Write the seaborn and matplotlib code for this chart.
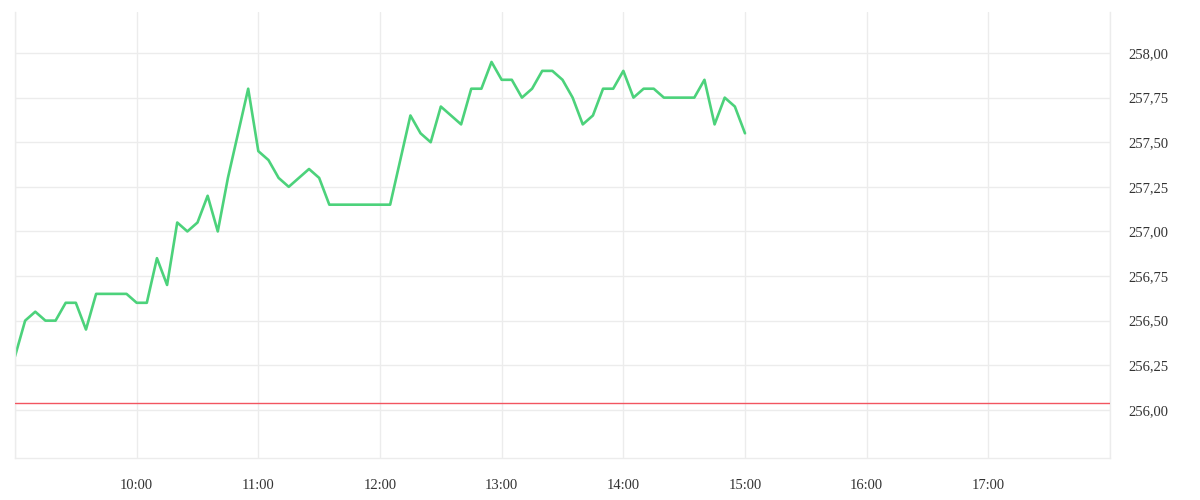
import matplotlib
matplotlib.use("Agg")
import matplotlib.pyplot as plt
import matplotlib.dates as mdates
from matplotlib.ticker import FuncFormatter, MultipleLocator
import numpy as np
import pandas as pd
import seaborn as sns

# 5-minute prices from 09:00 to 15:00
times = pd.date_range("2024-01-02 09:00", "2024-01-02 15:00", freq="5min")
prices = [
    256.30, 256.50, 256.55, 256.50, 256.50, 256.60, 256.60, 256.45, 256.65, 256.65, 256.65, 256.65,
    256.60, 256.60, 256.85, 256.70, 257.05, 257.00, 257.05, 257.20, 257.00, 257.30, 257.55, 257.80,
    257.45, 257.40, 257.30, 257.25, 257.30, 257.35, 257.30, 257.15, 257.15, 257.15, 257.15, 257.15,
    257.15, 257.15, 257.40, 257.65, 257.55, 257.50, 257.70, 257.65, 257.60, 257.80, 257.80, 257.95,
    257.85, 257.85, 257.75, 257.80, 257.90, 257.90, 257.85, 257.75, 257.60, 257.65, 257.80, 257.80,
    257.90, 257.75, 257.80, 257.80, 257.75, 257.75, 257.75, 257.75, 257.85, 257.60, 257.75, 257.70,
    257.55,
]
prev_close = 256.04
y_ticks = [256.00, 256.25, 256.50, 256.75, 257.00, 257.25, 257.50, 257.75, 258.00]

df = pd.DataFrame({"time": times, "price": prices})

sns.set_style("white")
plt.rcParams["font.family"] = ["Liberation Serif", "DejaVu Serif"]

fig = plt.figure(figsize=(12, 5), dpi=100)
ax = fig.add_axes([0.0125, 0.084, 0.9125, 0.892])

grid_col = "#ececec"
sns.lineplot(data=df, x="time", y="price", ax=ax, color="#4cd27b", linewidth=1.9)
ax.axhline(prev_close, color="#f25560", linewidth=1.0, zorder=3)

ax.set_xlim(pd.Timestamp("2024-01-02 09:00"), pd.Timestamp("2024-01-02 18:00"))
ax.set_ylim(255.73, 258.23)

ax.xaxis.set_major_locator(mdates.HourLocator())
hour_fmt = mdates.DateFormatter("%H:%M")
ax.xaxis.set_major_formatter(FuncFormatter(
    lambda v, p: "" if mdates.num2date(v).hour in (9, 18) else hour_fmt(v, p)))
ax.set_yticks(y_ticks)
ax.yaxis.set_major_formatter(FuncFormatter(lambda v, p: f"{v:.2f}".replace(".", ",")))
ax.yaxis.tick_right()

ax.grid(True, color=grid_col, linewidth=1.0)
ax.set_axisbelow(True)
ax.tick_params(axis="x", length=7, width=1, color=grid_col, pad=8,
               labelsize=10.5, labelcolor="#333333")
ax.tick_params(axis="y", length=0, pad=13, labelsize=10.5, labelcolor="#333333")

ax.set_xlabel("")
ax.set_ylabel("")
for side in ["left", "right", "bottom"]:
    ax.spines[side].set_color(grid_col)
    ax.spines[side].set_linewidth(1.0)
ax.spines["top"].set_visible(False)

plt.savefig("out.png", dpi=100)
